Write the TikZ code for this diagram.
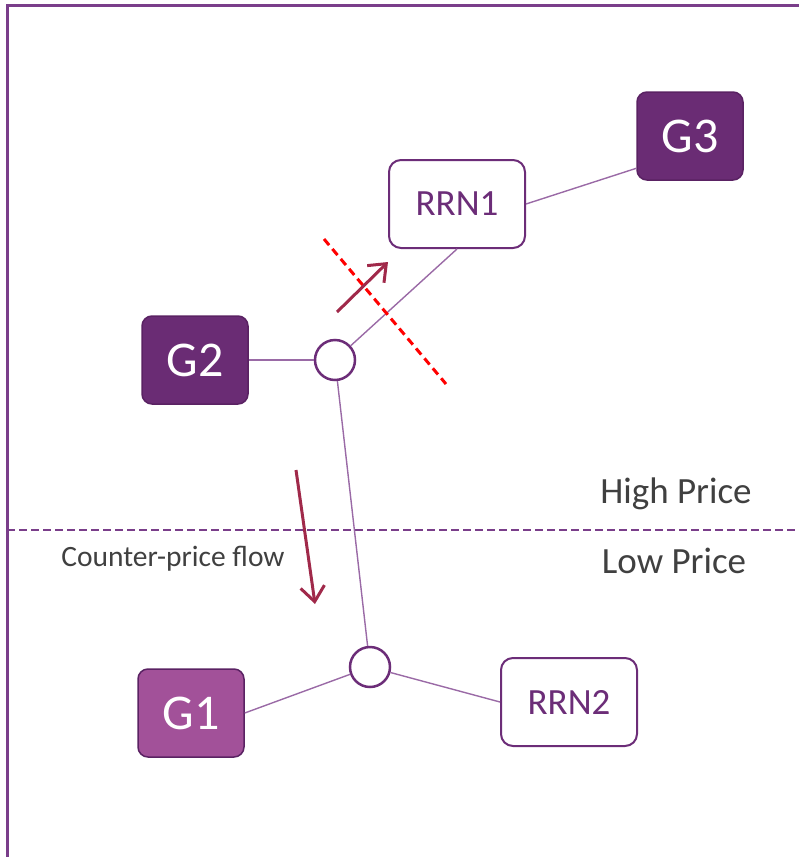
\documentclass[tikz,border=0pt]{standalone}
\usepackage{fontspec}
\setmainfont{Carlito}
\usetikzlibrary{arrows.meta}
\definecolor{framepurple}{HTML}{7A3E8A}
\definecolor{gendark}{HTML}{6A2C74}
\definecolor{genlight}{HTML}{A25199}
\definecolor{genborder}{HTML}{5A2263}
\definecolor{boxpurple}{HTML}{6C2D78}
\definecolor{linkpurple}{HTML}{9A6AA6}
\definecolor{flowred}{HTML}{A0294A}
\definecolor{textgrey}{HTML}{404040}
\tikzset{
	gen/.style={draw=genborder, line width=1.5pt, fill=gendark, rounded corners=10pt, minimum width=106pt, minimum height=88pt, text=white, font=\fontsize{50}{56}\selectfont},
	rrn/.style={draw=boxpurple, line width=2pt, fill=white, rounded corners=12pt, minimum width=136pt, minimum height=88pt, text=boxpurple, font=\fontsize{37}{42}\selectfont},
	bus/.style={circle, draw=boxpurple, line width=2.5pt, fill=white, minimum size=40pt, inner sep=0pt},
	link/.style={draw=linkpurple, line width=1.4pt},
	flow/.style={->, >={Straight Barb[length=15pt,width=24pt]}, draw=flowred, line width=3pt},
	pricetext/.style={text=textgrey, font=\fontsize{37}{42}\selectfont}
}
\begin{document}
\begin{tikzpicture}[x=1pt, y=-1pt]
		\useasboundingbox (0,0) rectangle (799,857);

		% frame and price boundary
		\draw [framepurple, line width=3pt] (799,5) -- (7,5) -- (7,857);
		\draw [framepurple, line width=2.5pt, dash pattern=on 8pt off 4pt] (7,530) -- (799,530);

		% generators, nodes and buses
		\node [gen] (g3) at (690,136) {G3};
		\node [rrn] (rrn1) at (457,204) {RRN1};
		\node [gen] (g2) at (195,360) {G2};
		\node [bus] (j1) at (335,360) {};
		\node [bus] (j2) at (370,667) {};
		\node [gen, fill=genlight] (g1) at (191,713) {G1};
		\node [rrn] (rrn2) at (569,702) {RRN2};

		% lines
		\draw [link] (rrn1.east) -- (g3.211);
		\draw [link] (j1) -- (rrn1.south);
		\draw [link] (g2.east) -- (j1);
		\draw [link] (j1) -- (j2);
		\draw [link] (j2) -- (g1.east);
		\draw [link] (j2) -- (rrn2.west);

		% constraint and flows
		\draw [red, line width=3pt, dash pattern=on 8pt off 5pt] (324,239) -- (446,384);
		\draw [flow] (337,312) -- (388,262);
		\draw [flow] (296,470) -- (315,604);

		% labels
		\node [pricetext, anchor=base] (high) at (676,503) {High Price};
		\node [pricetext, anchor=base] (low) at (674,573) {Low Price};
		\node [text=textgrey, font=\fontsize{29.5}{34}\selectfont, anchor=base] (counter) at (173,566) {Counter-price flow};
	\end{tikzpicture}
\end{document}
